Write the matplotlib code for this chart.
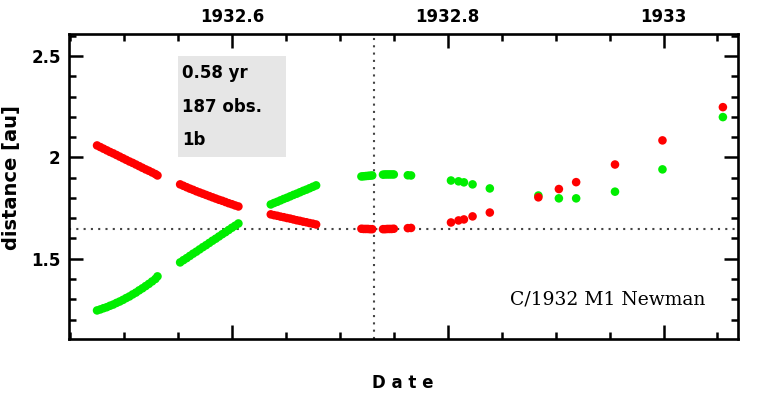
import matplotlib
matplotlib.use("Agg")
import matplotlib.pyplot as plt
from matplotlib.patches import Rectangle
from matplotlib.ticker import MultipleLocator, FixedLocator, FixedFormatter

# ---- data ----
dates = [1932.475, 1932.478, 1932.481, 1932.484, 1932.487, 1932.490, 1932.493, 1932.496, 1932.499, 1932.502,
         1932.505, 1932.508, 1932.511, 1932.514, 1932.517, 1932.520, 1932.523, 1932.526, 1932.529, 1932.531,
         1932.552, 1932.555, 1932.558, 1932.561, 1932.564, 1932.567, 1932.570, 1932.573, 1932.576, 1932.579,
         1932.582, 1932.585, 1932.588, 1932.591, 1932.594, 1932.597, 1932.600, 1932.603, 1932.606,
         1932.636, 1932.639, 1932.642, 1932.645, 1932.648, 1932.651, 1932.654, 1932.657, 1932.660, 1932.663,
         1932.666, 1932.669, 1932.672, 1932.675, 1932.678,
         1932.720, 1932.722, 1932.724, 1932.726, 1932.728, 1932.730,
         1932.740, 1932.742, 1932.744, 1932.746, 1932.748, 1932.750,
         1932.763, 1932.766,
         1932.803, 1932.810, 1932.815, 1932.823, 1932.839, 1932.884, 1932.903, 1932.919, 1932.955, 1932.999,
         1933.055]

# heliocentric distance (red)
r_dist = [2.059, 2.051, 2.043, 2.035, 2.027, 2.020, 2.012, 2.004, 1.996, 1.988,
          1.980, 1.973, 1.965, 1.957, 1.949, 1.941, 1.934, 1.926, 1.918, 1.911,
          1.867, 1.860, 1.853, 1.846, 1.840, 1.833, 1.827, 1.821, 1.815, 1.809,
          1.803, 1.797, 1.791, 1.786, 1.780, 1.774, 1.769, 1.763, 1.758,
          1.719, 1.715, 1.712, 1.708, 1.705, 1.701, 1.698, 1.694, 1.690, 1.687,
          1.683, 1.680, 1.676, 1.673, 1.669,
          1.648, 1.647, 1.647, 1.647, 1.646, 1.646,
          1.646, 1.646, 1.647, 1.647, 1.647, 1.648,
          1.651, 1.652,
          1.679, 1.689, 1.694, 1.709, 1.728, 1.803, 1.844, 1.878, 1.965, 2.084,
          2.248]

# geocentric distance (green)
g_dist = [1.245, 1.250, 1.256, 1.261, 1.268, 1.274, 1.282, 1.289, 1.297, 1.306,
          1.314, 1.324, 1.333, 1.344, 1.354, 1.365, 1.376, 1.388, 1.400, 1.413,
          1.482, 1.493, 1.503, 1.514, 1.525, 1.535, 1.546, 1.557, 1.567, 1.578,
          1.589, 1.599, 1.610, 1.621, 1.631, 1.642, 1.653, 1.663, 1.674,
          1.768, 1.775, 1.781, 1.788, 1.795, 1.801, 1.808, 1.815, 1.821, 1.828,
          1.835, 1.841, 1.848, 1.855, 1.862,
          1.906, 1.907, 1.908, 1.909, 1.910, 1.911,
          1.915, 1.916, 1.916, 1.916, 1.916, 1.916,
          1.912, 1.911,
          1.886, 1.882, 1.877, 1.867, 1.847, 1.812, 1.798, 1.798, 1.831, 1.941,
          2.199]

perihelion_date = 1932.732
perihelion_q = 1.648

x_ticks = [1932.6, 1932.8, 1933.0]
x_tick_labels = ["1932.6", "1932.8", "1933"]
y_ticks = [1.5, 2.0, 2.5]
y_tick_labels = ["1.5", "2", "2.5"]

info_lines = ["0.58 yr", "187 obs.", "1b"]
title_text = "C/1932 M1 Newman"

# ---- figure ----
fig = plt.figure(figsize=(7.64, 3.96), dpi=100)
ax = fig.add_axes([69/764, 1-339/396, (738-69)/764, (339-34)/396])
ax.set_xlim(1932.449, 1933.069)
ax.set_ylim(1.104, 2.609)

# info box
ax.add_patch(Rectangle((1932.55, 2.0), 0.10, 0.5, facecolor="#e6e6e6", edgecolor="none", zorder=1))
for i, line in enumerate(info_lines):
    ax.text(1932.5535, 2.415 - i * 0.165, line, fontsize=12, fontweight="bold",
            family="DejaVu Sans", ha="left", va="center", zorder=2)

ax.axvline(perihelion_date, color="#444444", lw=1.5, ls=(0, (1, 2.5)), zorder=2)
ax.axhline(perihelion_q, color="#444444", lw=1.5, ls=(0, (1, 2.5)), zorder=2)

ax.scatter(dates, g_dist, s=38, color="#00ee00", edgecolors="none", zorder=3)
ax.scatter(dates, r_dist, s=38, color="#ff0000", edgecolors="none", zorder=4)

ax.text(0.9507, 0.131, title_text, transform=ax.transAxes, fontsize=13.5,
        family="DejaVu Serif", ha="right", va="center")

# ticks
ax.xaxis.set_major_locator(FixedLocator(x_ticks))
ax.xaxis.set_major_formatter(FixedFormatter(x_tick_labels))
ax.xaxis.set_minor_locator(MultipleLocator(0.05))
ax.yaxis.set_major_locator(FixedLocator(y_ticks))
ax.yaxis.set_major_formatter(FixedFormatter(y_tick_labels))
ax.yaxis.set_minor_locator(MultipleLocator(0.1))
ax.tick_params(which="both", direction="in", top=True, bottom=True, left=True, right=True,
               labeltop=True, labelbottom=False, width=1.8)
ax.tick_params(which="major", length=10, labelsize=12, pad=6)
ax.tick_params(which="minor", length=5)
for lab in ax.get_xticklabels() + ax.get_yticklabels():
    lab.set_fontweight("bold")
for sp in ax.spines.values():
    sp.set_linewidth(1.9)

fig.text(403/764, 1-383/396, "D a t e", fontsize=12, fontweight="bold", ha="center", va="center")
fig.text(12/764, 1-178/396, "distance [au]", fontsize=14, fontweight="bold", rotation=90,
         ha="center", va="center")

fig.savefig("out.png", dpi=100)
